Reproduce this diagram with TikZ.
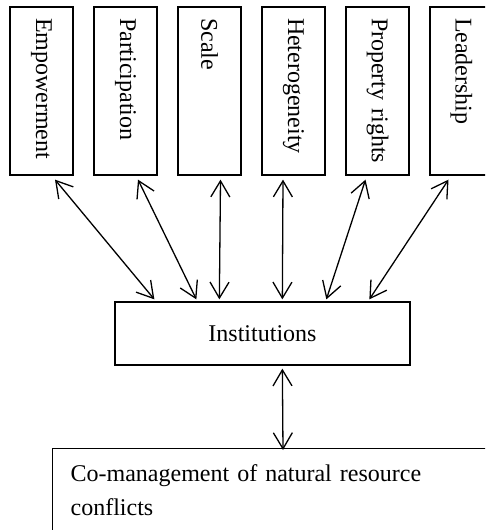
\documentclass[tikz,border=0pt]{standalone}
\usepackage{fontspec}
\setmainfont{Liberation Serif}
\usetikzlibrary{calc, arrows.meta}

\begin{document}
\begin{tikzpicture}[
  x=1pt, y=1pt,
  font=\fontsize{24}{34}\selectfont,
  factor/.style={rectangle, draw, line width=1.3pt, rotate=-90, minimum width=168pt, minimum height=63pt, text width=146pt, inner xsep=11pt, inner ysep=0pt, align=left},
  box/.style={rectangle, draw, line width=1.3pt, align=center},
  arrow/.style={{Straight Barb[length=16pt, width=19pt]}-{Straight Barb[length=16pt, width=19pt]}, line width=1.3pt}
]
\useasboundingbox (0,0) rectangle (485,-530);
\clip (0,0) rectangle (485,-530);

%------------------------------------------------
% Factors
%------------------------------------------------
\node[factor] (empower) at (41.5,-91) {Empowerment};
\node[factor] (particip) at (125.5,-91) {Participation};
\node[factor] (scale) at (209.5,-91) {Scale};
\node[factor] (hetero) at (293.5,-91) {Heterogeneity};
\node[factor] (property) at (377.5,-91) {Property rights};
\node[factor] (leader) at (461.5,-91) {Leadership};

%------------------------------------------------
% Institutions and outcome
%------------------------------------------------
\node[box, minimum width=295pt, minimum height=63pt] (inst) at (262.5,-333.5) {Institutions};
\node[box, anchor=north west, text width=420pt, inner xsep=18pt, inner ysep=16pt, align=left] (comgmt) at (52,-448) {Co-management of natural resource\\conflicts};

%------------------------------------------------
% Arrows
%------------------------------------------------
\draw[arrow] ($(empower.east)+(13.5,-4)$) -- ($(inst.north west)+(40,2)$);
\draw[arrow] ($(particip.east)+(12.5,-4)$) -- ($(inst.north west)+(82,2)$);
\draw[arrow] ($(scale.east)+(11,-4)$) -- ($(inst.north west)+(105,2)$);
\draw[arrow] ($(hetero.east)+(-10.5,-4)$) -- ($(inst.north west)+(168,2)$);
\draw[arrow] ($(property.east)+(-12,-4)$) -- ($(inst.north west)+(212,2)$);
\draw[arrow] ($(leader.east)+(-13,-4)$) -- ($(inst.north west)+(255,2)$);

\draw[arrow] ($(inst.south west)+(168,-3)$) -- ($(comgmt.north west)+(231,-2)$);

\end{tikzpicture}
\end{document}
